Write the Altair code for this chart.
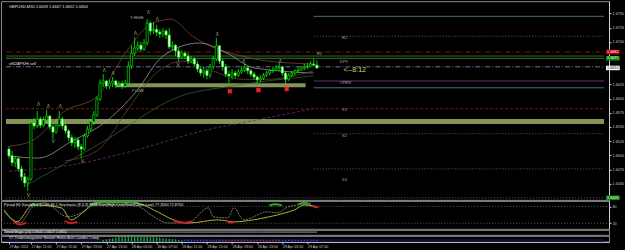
import altair as alt
import pandas as pd

# ---------------- data (GBPUSD M30, bar 0 = 27 Apr 2011 07:30) ----------------
FIRST_OPEN = 1.6511
CLOSE = [1.6499,1.6487,1.6494,1.6476,1.6462,1.6451,1.6458,1.6557,1.6552,1.6564,
         1.6553,1.6562,1.6569,1.6550,1.6541,1.6553,1.6564,1.6552,1.6543,1.6531,
         1.6522,1.6527,1.6515,1.6511,1.6534,1.6546,1.6559,1.6571,1.6599,1.6627,
         1.6631,1.6622,1.6627,1.6631,1.6624,1.6626,1.6622,1.6627,1.6657,1.6680,
         1.6689,1.6694,1.6687,1.6698,1.6733,1.6719,1.6722,1.6717,1.6714,1.6719,
         1.6712,1.6691,1.6694,1.6684,1.6673,1.6680,1.6675,1.6666,1.6670,1.6661,
         1.6652,1.6645,1.6649,1.6641,1.6656,1.6670,1.6693,1.6666,1.6656,1.6643,
         1.6640,1.6645,1.6641,1.6647,1.6650,1.6654,1.6649,1.6643,1.6638,1.6633,
         1.6636,1.6641,1.6645,1.6649,1.6650,1.6654,1.6656,1.6645,1.6634,1.6641,
         1.6645,1.6649,1.6650,1.6654,1.6656,1.6657,1.6661,1.6659,1.6654]
HIGH = [1.6516,1.6508,1.6499,1.6497,1.6481,1.6469,1.6462,1.6564,1.6566,1.6578,
        1.6568,1.6568,1.6580,1.6571,1.6555,1.6557,1.6578,1.6568,1.6557,1.6546,
        1.6536,1.6532,1.6531,1.6520,1.6538,1.6552,1.6564,1.6578,1.6604,1.6634,
        1.6643,1.6633,1.6634,1.6638,1.6633,1.6631,1.6631,1.6633,1.6666,1.6693,
        1.6708,1.6701,1.6700,1.6705,1.6740,1.6737,1.6735,1.6730,1.6722,1.6724,
        1.6722,1.6724,1.6701,1.6696,1.6689,1.6685,1.6684,1.6680,1.6675,1.6673,
        1.6666,1.6656,1.6656,1.6652,1.6661,1.6675,1.6707,1.6694,1.6670,1.6661,
        1.6649,1.6652,1.6649,1.6652,1.6657,1.6661,1.6656,1.6652,1.6647,1.6641,
        1.6641,1.6645,1.6649,1.6652,1.6656,1.6659,1.6663,1.6657,1.6649,1.6645,
        1.6649,1.6652,1.6656,1.6657,1.6661,1.6663,1.6666,1.6670,1.6667]
LOW = [1.6494,1.6481,1.6479,1.6471,1.6455,1.6444,1.6437,1.6455,1.6546,1.6548,
       1.6548,1.6550,1.6559,1.6545,1.6529,1.6538,1.6550,1.6546,1.6538,1.6525,
       1.6516,1.6513,1.6509,1.6495,1.6508,1.6531,1.6543,1.6553,1.6568,1.6596,
       1.6620,1.6617,1.6617,1.6620,1.6619,1.6620,1.6617,1.6619,1.6624,1.6652,
       1.6675,1.6684,1.6682,1.6684,1.6694,1.6712,1.6714,1.6710,1.6707,1.6708,
       1.6705,1.6687,1.6684,1.6675,1.6666,1.6670,1.6670,1.6661,1.6663,1.6656,
       1.6647,1.6640,1.6636,1.6634,1.6636,1.6652,1.6666,1.6661,1.6649,1.6638,
       1.6627,1.6634,1.6636,1.6638,1.6643,1.6647,1.6643,1.6638,1.6633,1.6627,
       1.6629,1.6633,1.6638,1.6641,1.6645,1.6649,1.6649,1.6640,1.6627,1.6631,
       1.6638,1.6641,1.6645,1.6649,1.6650,1.6652,1.6656,1.6657,1.6652]

PRICE_TICKS = [1.6750, 1.6725, 1.6700, 1.6625, 1.6600, 1.6575, 1.6550,
               1.6525, 1.6500, 1.6475, 1.6450]
DATE_POS = [0, 7, 15, 23, 31, 39, 47, 55, 63, 71, 79, 87, 95]
DATE_LABELS = ["27 Apr 2011", "27 Apr 11:00", "27 Apr 15:00", "27 Apr 19:00",
               "27 Apr 23:00", "28 Apr 03:00", "28 Apr 07:00", "28 Apr 11:00",
               "28 Apr 15:00", "28 Apr 19:00", "28 Apr 23:00", "29 Apr 03:00",
               "29 Apr 07:00"]

# horizontal levels: name, price, start bar (None = whole width), style, colour
LEVELS = [
    ("L1", 1.6745, 97, "solid", "#5b8c8c"),
    ("R2", 1.6710, 97, "dotted", "#7a7a7a"),
    ("R1", 1.6682, None, "dashdot", "#b01818"),
    ("G1", 1.6675, None, "solid", "#2f8f2f"),
    ("G2", 1.6671, None, "solid", "#4f8f2f"),
    ("DPV", 1.6656, None, "dashdot", "#7b96c8"),
    ("OPEN", 1.6631, 97, "solid", "#8a3a8a"),
    ("L2", 1.6619, 97, "solid", "#5f8f9f"),
    ("S1", 1.6582, None, "dashed", "#a01818"),
    ("S2", 1.6538, 97, "dotted", "#7a7a7a"),
    ("S3", 1.6476, 97, "dotted", "#7a7a7a"),
    ("LB", 1.6425, None, "dotted", "#7a7a7a"),
]
LEVEL_TEXT = [("R2", 106, 1.6707), ("R1", 98, 1.6678), ("DPV", 105.3, 1.6664),
              ("OPEN", 105.3, 1.6627), ("S1", 106, 1.6580), ("S2", 106, 1.6534),
              ("S3", 106, 1.6456)]
# zones (x from, x to, price lo, price hi); None = whole width
ZONES = [(34, 94.4, 1.6620, 1.6627), (None, None, 1.6555, 1.6564)]

# moving averages (bar, price)
MA_BROWN_X = [0, 7.2, 17.8, 28.1, 37.5, 44.4, 51.6, 58.4, 65.6, 74.1, 82.5, 96.9]
MA_BROWN = [1.6516, 1.6525, 1.6578, 1.6604, 1.6684, 1.6728, 1.6740, 1.6710, 1.6689, 1.6675, 1.6666, 1.6661]
MA_GRAY_X = [0, 9.4, 20, 30.3, 40.6, 49, 60.6, 69.4, 78.1, 96.9]
MA_GRAY = [1.6499, 1.6495, 1.6525, 1.6557, 1.6613, 1.6675, 1.6698, 1.6680, 1.6654, 1.6645]
MA_LOW_X = [17.8, 28.1, 37.5, 45.9, 55.3, 64.7, 74.1, 82.5, 96.9]
MA_LOW = [1.6490, 1.6508, 1.6578, 1.6640, 1.6666, 1.6649, 1.6634, 1.6634, 1.6649]
MA_GREEN_X = [5.3, 30.3, 54.4, 70.9, 96.9]
MA_GREEN = [1.6446, 1.6525, 1.6604, 1.6622, 1.6640]
MA_PURPLE_X = [0, 17.8, 39.7, 61.6, 80.3, 96.9]
MA_PURPLE = [1.6472, 1.6481, 1.6508, 1.6543, 1.6564, 1.6582]

FRACTAL_UP_X = [9.4, 12.5, 16.3, 30.3, 33.1, 40.3, 44.4, 47.2, 66.3, 74.7, 86.3]
FRACTAL_UP = [1.6589, 1.6585, 1.6585, 1.6649, 1.6643, 1.6714, 1.6751, 1.6738, 1.6712, 1.6664, 1.6664]
FRACTAL_DN_X = [6.25, 14.1, 23.4, 53.8]
FRACTAL_DN = [1.6428, 1.6524, 1.6488, 1.6659]
CROSS_X = [70.3, 79.4, 88.4]
CROSS_P = [1.6613, 1.6615, 1.6617]

BOXES = [(1.6682, "1.6682", "#c00000", "#ffffff"), (1.6671, "1.6671", "#0a8a0a", "#ffffff"),
         (1.6654, "1.6654", "#ffffff", "#000000"), (1.6425, "1.6425", "#0a8a0a", "#ffffff")]

# stochastic panel
STOCH_SIG_X = [0, 4, 9, 18, 21, 25, 29, 41, 48, 53, 58, 67, 72, 78, 83, 88, 91, 94, 98]
STOCH_SIG = [68, 25, 86, 75, 32, 61, 93, 93, 61, 32, 21, 32, 25, 32, 43, 57, 68, 86, 79]
STOCH_K_X = [0, 3, 5, 9, 12.5, 20, 24, 28, 40.5, 47, 51, 57.5, 64, 65.5, 70, 72, 75, 82.5, 85.5, 89, 93, 98]
STOCH_K = [61, 32, 21, 79, 93, 43, 57, 86, 86, 43, 21, 21, 75, 43, 39, 75, 32, 61, 57, 79, 86, 75]
RED_SEGS = [([3, 5, 7], [25, 15, 22]), ([19, 21, 23], [28, 20, 25]), ([53, 56, 59], [30, 22, 27]),
            ([70, 71, 72], [25, 22, 25]), ([96.5, 97.5, 98.5], [82, 79, 76])]
GREEN_SEGS = [([8, 9, 10.5], [82, 88, 84]), ([27, 30, 35, 40, 43], [88, 95, 97, 95, 88]),
              ([83, 85, 87], [84, 88, 84]), ([92, 94, 96], [88, 93, 88])]

# bottom (histogram) panel
HIST_X = [30, 31, 32, 33, 34, 35, 36, 37, 38, 39, 40, 41, 42, 43, 44, 45, 46, 47, 48, 49, 50, 51, 52, 53, 54, 55]
HIST = [0.3, 0.4, 0.5, 0.6, 0.7, 0.8, 0.85, 0.9, 0.9, 0.95, 1, 1, 0.95, 0.9, 0.9, 0.85, 0.8, 0.75, 0.7, 0.6, 0.55, 0.5, 0.45, 0.4, 0.3, 0.2]

# ---------------- layout helpers ----------------
W = 609
XDOM = [-3 / 3.2, (W - 3) / 3.2]
FONT = "Liberation Sans"
LBL = "#c8c8c8"
xs = alt.Scale(domain=XDOM, nice=False, zero=False)
ys = alt.Scale(domain=[1.64213, 1.67717], nice=False, zero=False)
yax = alt.Axis(orient="right", values=PRICE_TICKS, format=".4f", labelFontSize=3.8,
               labelColor=LBL, labelFont=FONT, tickSize=2, tickColor=LBL,
               domainColor="#d0d0d0", labelPadding=1, grid=False, title=None)


def X(f="x"):
    return alt.X(f"{f}:Q", scale=xs, axis=None)


def Y(f="y"):
    return alt.Y(f"{f}:Q", scale=ys, axis=yax)


# ---------------- main panel ----------------
n = len(CLOSE)
opens = [FIRST_OPEN] + CLOSE[:-1]
cand = pd.DataFrame({"x": list(range(n)), "o": opens, "h": HIGH, "l": LOW, "c": CLOSE})
cand["fill"] = ["#000000" if c >= o else "#ffffff" for o, c in zip(cand.o, cand.c)]

zones = pd.DataFrame([{"x": XDOM[0] if a is None else a, "x2": XDOM[1] if b is None else b,
                       "y": lo, "y2": hi} for a, b, lo, hi in ZONES])
levels = pd.DataFrame([{"x": XDOM[0] if s is None else s, "x2": XDOM[1], "y": p,
                        "style": st, "col": col} for _, p, s, st, col in LEVELS])
ma_rows = []
for name, xx, yy, col in [("brown", MA_BROWN_X, MA_BROWN, "#8b4a3a"),
                          ("gray", MA_GRAY_X, MA_GRAY, "#b0a8a8"),
                          ("low", MA_LOW_X, MA_LOW, "#7a4438"),
                          ("green", MA_GREEN_X, MA_GREEN, "#2f6f2f")]:
    for a, b in zip(xx, yy):
        ma_rows.append({"s": name, "x": a, "y": b, "col": col})
mas = pd.DataFrame(ma_rows)
purple = pd.DataFrame({"x": MA_PURPLE_X, "y": MA_PURPLE})
fr_up = pd.DataFrame({"x": FRACTAL_UP_X, "y": FRACTAL_UP})
fr_dn = pd.DataFrame({"x": FRACTAL_DN_X, "y": FRACTAL_DN})
crosses = pd.DataFrame({"x": CROSS_X, "y": CROSS_P})
lvl_text = pd.DataFrame([{"t": t, "x": a, "y": b} for t, a, b in LEVEL_TEXT])
misc_text = pd.DataFrame([
    {"t": "GBPUSD,M30  1.6659 1.6667 1.6652 1.6654", "x": 0, "y": 1.6762, "size": 4.0, "col": "#e0e0e0"},
    {"t": "eKl2APKHt sell", "x": 0, "y": 1.6661, "size": 4.0, "col": "#e0e0e0"},
    {"t": "Y HIGH", "x": 38.6, "y": 1.6742, "size": 3.8, "col": "#c0c0c0"},
    {"t": "Y LOW", "x": 39.0, "y": 1.6613, "size": 3.8, "col": "#c0c0c0"},
])
clock = pd.DataFrame([{"t": "<--8:12", "x": 106.5, "y": 1.6650}])
BX0, BX1 = (W + 2 - 3) / 3.2, (W + 16 - 3) / 3.2
boxes = pd.DataFrame([{"x": BX0, "x2": BX1, "y": p - 0.00040, "y2": p + 0.00040, "yc": p,
                       "t": t, "fill": f, "tc": tc} for p, t, f, tc in BOXES])

layers = [
    alt.Chart(zones).mark_rect(color="#8a9a5b", opacity=0.95).encode(x=X(), x2="x2", y=Y(), y2="y2"),
]
for style, dash in [("solid", None), ("dotted", [1, 2]), ("dashed", [3, 2]), ("dashdot", [5, 2, 1, 2])]:
    kw = {"strokeWidth": 0.8}
    if dash:
        kw["strokeDash"] = dash
    layers.append(alt.Chart(levels).transform_filter(alt.datum.style == style)
                  .mark_rule(**kw).encode(x=X(), x2="x2", y=Y(),
                                          color=alt.Color("col:N", scale=None)))
layers += [
    alt.Chart(mas).mark_line(strokeWidth=0.7, interpolate="monotone").encode(
        x=X(), y=Y(), detail="s:N", color=alt.Color("col:N", scale=None)),
    alt.Chart(purple).mark_line(strokeWidth=0.8, strokeDash=[3, 2], color="#7a2a7a",
                                interpolate="monotone").encode(x=X(), y=Y()),
    alt.Chart(cand).mark_rule(color="#00ff00", strokeWidth=0.8).encode(x=X(), y=Y("l"), y2="h"),
    alt.Chart(cand).mark_bar(size=2.2, stroke="#00ff00", strokeWidth=0.6).encode(
        x=X(), y=Y("o"), y2="c", fill=alt.Fill("fill:N", scale=None)),
    alt.Chart(fr_up).mark_text(text="Λ", fontSize=4.5, color="#b8b89a", font=FONT).encode(x=X(), y=Y()),
    alt.Chart(fr_dn).mark_text(text="V", fontSize=4.5, color="#b8b89a", font=FONT).encode(x=X(), y=Y()),
    alt.Chart(crosses).mark_point(shape="cross", angle=45, filled=True, color="#ff2020",
                                  size=28, opacity=1).encode(x=X(), y=Y()),
    alt.Chart(lvl_text).mark_text(align="left", fontSize=4.0, color="#a8a8a8", font=FONT).encode(
        x=X(), y=Y(), text="t:N"),
    alt.Chart(misc_text).mark_text(align="left", font=FONT).encode(
        x=X(), y=Y(), text="t:N", size=alt.Size("size:Q", scale=None),
        color=alt.Color("col:N", scale=None)),
    alt.Chart(clock).mark_text(align="left", fontSize=7, color="#d8d860", font=FONT).encode(
        x=X(), y=Y(), text="t:N"),
    alt.Chart(boxes).mark_rect().encode(x=X(), x2="x2", y=Y(), y2="y2",
                                        fill=alt.Fill("fill:N", scale=None)),
    alt.Chart(boxes).mark_text(align="left", fontSize=3.8, font=FONT, dx=1).encode(
        x=X(), y=Y("yc"), text="t:N", color=alt.Color("tc:N", scale=None)),
]
main = alt.layer(*layers).properties(width=W, height=199)

# ---------------- stochastic panel ----------------
sys_ = alt.Scale(domain=[0, 100], nice=False, zero=False)
sax = alt.Axis(orient="right", values=[80, 20], labelFontSize=3.8, labelColor=LBL, labelFont=FONT,
               tickSize=2, tickColor=LBL, domainColor="#d0d0d0", labelPadding=1, grid=False, title=None)


def SY(f="y"):
    return alt.Y(f"{f}:Q", scale=sys_, axis=sax)


sig = pd.DataFrame({"x": STOCH_SIG_X, "y": STOCH_SIG})
kk = pd.DataFrame({"x": STOCH_K_X, "y": STOCH_K})
seg_rows = []
for k, (xx, yy) in enumerate(RED_SEGS):
    for a, b in zip(xx, yy):
        seg_rows.append({"s": f"r{k}", "x": a, "y": b, "col": "#d02020"})
for k, (xx, yy) in enumerate(GREEN_SEGS):
    for a, b in zip(xx, yy):
        seg_rows.append({"s": f"g{k}", "x": a, "y": b, "col": "#20b020"})
segs = pd.DataFrame(seg_rows)
slev = pd.DataFrame({"x": [XDOM[0], XDOM[0]], "x2": [XDOM[1], XDOM[1]], "y": [80, 20]})
stitle = pd.DataFrame([{"x": 0, "y": 86,
                        "t": "Period H1 Stoch(8,3,3) %K 86.1  Stochastic (8,3,3) SMA Sum(High-Low)/Sum(Close-Low) 77.3250 71.8750"}])
stoch = alt.layer(
    alt.Chart(slev).mark_rule(color="#707070", strokeDash=[1, 2], strokeWidth=0.8).encode(x=X(), x2="x2", y=SY()),
    alt.Chart(kk).mark_line(color="#b0b0b0", strokeWidth=0.7, strokeDash=[2, 1], interpolate="monotone").encode(x=X(), y=SY()),
    alt.Chart(sig).mark_line(color="#c8c040", strokeWidth=0.9, interpolate="monotone").encode(x=X(), y=SY()),
    alt.Chart(segs).mark_line(strokeWidth=1.8, interpolate="monotone").encode(
        x=X(), y=SY(), detail="s:N", color=alt.Color("col:N", scale=None)),
    alt.Chart(stitle).mark_text(align="left", fontSize=3.8, color="#e0e0e0", font=FONT).encode(
        x=X(), y=SY(), text="t:N"),
).properties(width=W, height=28)

# ---------------- small panel ----------------
mys = alt.Scale(domain=[0, 1], nice=False, zero=False)


def MY(f="y"):
    return alt.Y(f"{f}:Q", scale=mys, axis=None)


mline = pd.DataFrame({"x": [0, 98], "y": [0.55, 0.55]})
mtext = pd.DataFrame([{"x": 0, "y": 0.55, "t": "Trend Magic (20) 1.6641  1.6627  1.6652"}])
mid = alt.layer(
    alt.Chart(mline).mark_line(color="#9a9a9a", strokeWidth=1).encode(x=X(), y=MY()),
    alt.Chart(mtext).mark_text(align="left", fontSize=3.6, color="#e8e8e8", font=FONT).encode(
        x=X(), y=MY(), text="t:N"),
).properties(width=W, height=5)

# ---------------- bottom panel with date axis ----------------
label_expr = ("[" + ",".join(f"'{s}'" for s in DATE_LABELS) + "][indexof(["
              + ",".join(str(v) for v in DATE_POS) + "], datum.value)]")
xax = alt.Axis(values=DATE_POS, labelExpr=label_expr, labelAlign="left", labelFontSize=3.6,
               labelColor=LBL, labelFont=FONT, tickSize=2, tickColor=LBL, domainColor="#c8c8c8",
               labelPadding=1, grid=False, title=None, labelFlush=False, labelOverlap=False)


def BX(f="x"):
    return alt.X(f"{f}:Q", scale=xs, axis=xax)


navy = pd.DataFrame([{"x": XDOM[0], "x2": XDOM[1], "y": 0, "y2": 0.45}])
hist = pd.DataFrame({"x": HIST_X, "y": HIST})
dots = pd.DataFrame({"x": list(range(56, 99)),
                     "col": ["#4040ff" if (i < 67 or i > 86) else "#c03040" for i in range(56, 99)]})
dots["y"] = 0.25
vtext = pd.DataFrame([{"x": 0, "y": 0.65, "t": "VT-Tradersmagazine Smooth Heikin Ashi Candles Comp"}])
vol = alt.layer(
    alt.Chart(navy).mark_rect(color="#0c0c3a").encode(x=BX(), x2="x2", y=MY(), y2="y2"),
    alt.Chart(hist).mark_bar(size=1.4, color="#1e9e3e").encode(x=BX(), y=MY(), y2=alt.datum(0)),
    alt.Chart(dots).mark_square(size=1.5, opacity=1).encode(
        x=BX(), y=MY(), color=alt.Color("col:N", scale=None)),
    alt.Chart(vtext).mark_text(align="left", fontSize=3.6, color="#e8e8e8", font=FONT).encode(
        x=BX(), y=MY(), text="t:N"),
).properties(width=W, height=6)

chart = alt.vconcat(main, stoch, mid, vol, spacing=1, padding=0, bounds="flush").configure(
    background="#000000", font=FONT
).configure_view(stroke="#8c8c8c", strokeWidth=1)

chart.save("out.html", embed_options={"renderer": "svg", "actions": False})
